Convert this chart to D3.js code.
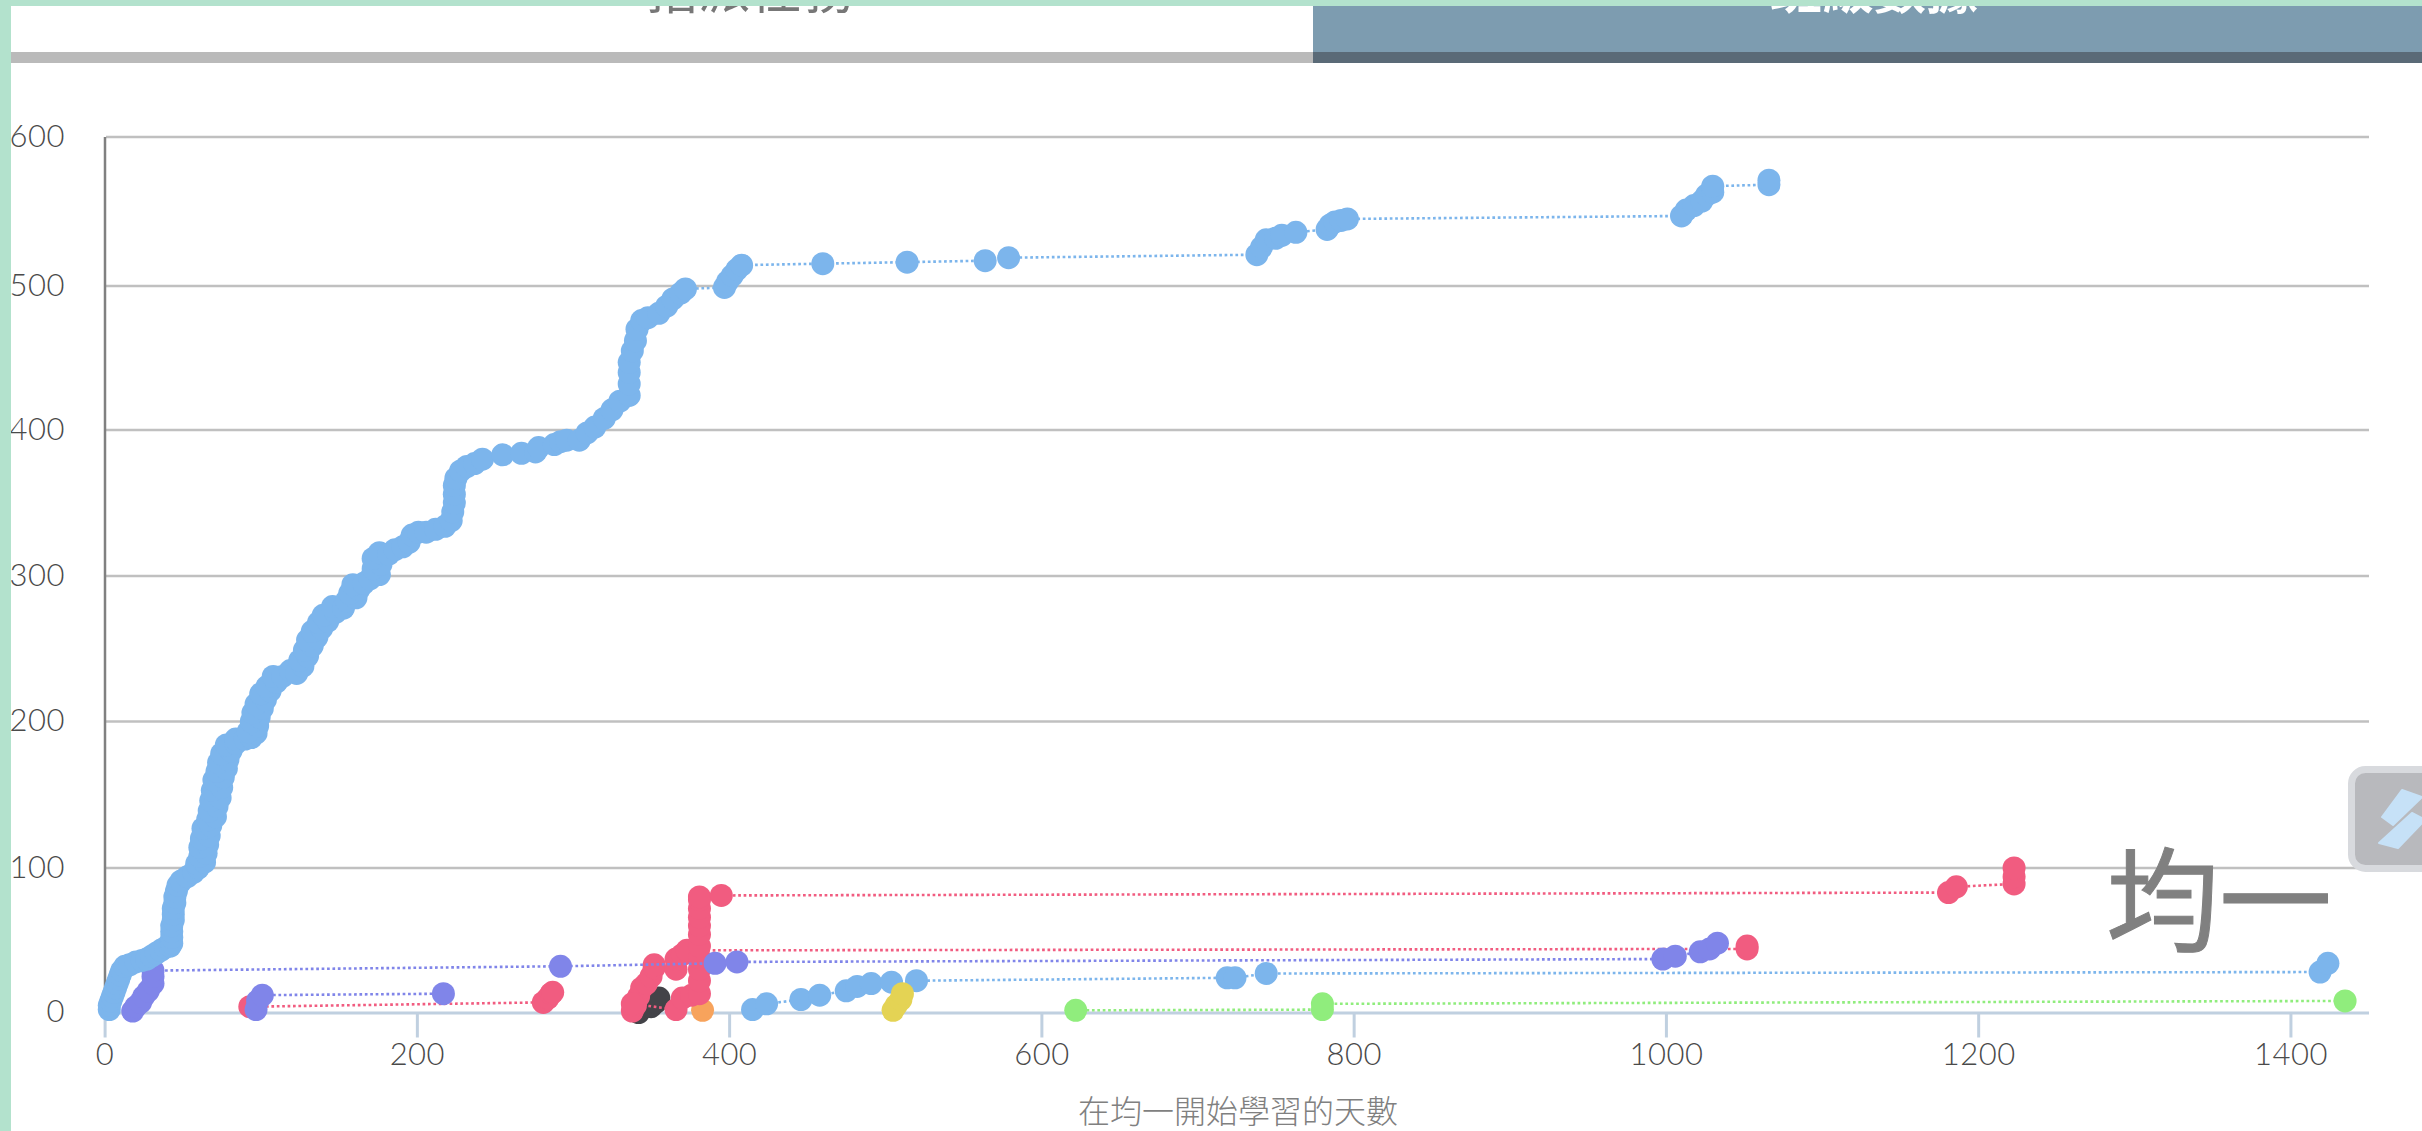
<!DOCTYPE html>
<html><head><meta charset="utf-8">
<script src="https://cdn.jsdelivr.net/npm/d3@7/dist/d3.min.js"></script>
<style>html,body{margin:0;padding:0;background:#fff;overflow:hidden}svg{display:block}</style>
</head><body>
<svg id="c" width="2422" height="1131"></svg>
<script>
const xTicks=[0,200,400,600,800,1000,1200,1400];
const yTicks=[0,100,200,300,400,500,600];
const xTitle="在均一開始學習的天數";
const tabLabels=["指派任務","班級數據"];
const watermark="均一";

const blueDays=[3,3,4,5,6,7,8,9,10,11,13,16,20,24,27,30,33,36,39,42,43,43,43,43,44,44,44,45,45,46,47,49,53,57,60,59,64,61,65,61,66,62,67,63,68,66,71,67,72,68,74,69,75,70,76,72,78,73,79,75,81,78,84,84,90,94,97,92,98,94,99,95,101,97,103,100,106,104,110,108,114,119,123,127,125,130,128,133,130,136,133,139,137,143,140,148,146,153,155,161,157,163,159,166,170,176,172,177,172,176,182,186,191,195,197,201,206,212,218,222,223,224,224,224,225,228,232,237,242,255,267,276,278,288,292,296,304,309,314,320,325,330,336,336,336,336,338,340,341,344,348,355,360,364,369,372,397,399,402,405,408,460,514,564,579,738,741,744,750,754,763,783,785,788,792,796,1010,1013,1018,1023,1026,1030,1030,1066,1066];
const blueVals=[2,5,8,11,14,17,20,23,26,29,32,33,35,36,37,39,41,43,45,46,48,52,56,60,64,68,72,76,80,84,88,91,94,97,100,103,104,108,110,114,116,120,122,127,129,133,135,139,142,146,148,153,155,160,162,166,168,172,174,178,180,184,185,188,188,189,192,193,197,200,203,206,209,212,215,219,221,224,227,231,231,235,233,238,242,245,249,252,256,258,262,264,268,269,273,275,279,278,283,285,288,291,294,295,298,301,305,308,312,316,315,318,320,323,328,330,330,332,334,338,344,350,356,362,367,372,375,377,380,383,384,385,388,390,392,393,393,398,402,408,414,420,424,432,440,447,455,462,470,476,478,481,486,491,495,498,499,503,507,511,514,515,516,517,519,521,526,531,532,534,536,538,541,543,544,545,547,551,554,557,561,563,567,568,571];
const blue2Days=[415,424,446,458,475,482,491,504,520,719,724,744,1419,1424];
const blue2Vals=[2,6,9,12,15,18,20,21,22,24,24,27,28,34];
const purpleADays=[18,20,23,25,28,31,31,31,292,391,405,998,1006,1022,1028,1033];
const purpleAVals=[1,4,7,11,15,20,25,29,32,34,35,37,39,42,44,48];
const purpleBDays=[97,98,101,217];
const purpleBVals=[2,8,12,13];
const pinkADays=[93,281,284,286,287];
const pinkAVals=[4,7,10,13,14];
const pinkBDays=[338,340,342,344,347,350,352,352,366,366,370,373,1052,1052];
const pinkBVals=[1,5,11,17,20,25,31,33,30,37,40,43,44,46];
const pinkCDays=[338,366,370,376,381,381,381,381,381,381,381,381,381,381,381,395,1181,1186,1223,1223,1223];
const pinkCVals=[6,2,10,12,13,22,30,38,46,54,60,66,72,78,80,81,83,87,89,94,100];
const darkDays=[342,350,353,355];
const darkVals=[0,4,7,10];
const orangeDays=[383];
const orangeVals=[1.5];
const yellowDays=[505,507,510,511];
const yellowVals=[1.5,5,9,13];
const greenDays=[622,780,780,1435];
const greenVals=[1.5,2,6,8];

const seriesOrder=[
 [orangeDays,orangeVals,"#f7a35c"],
 [darkDays,darkVals,"#434348"],
 [pinkADays,pinkAVals,"#f15c80"],
 [pinkBDays,pinkBVals,"#f15c80"],
 [pinkCDays,pinkCVals,"#f15c80"],
 [purpleADays,purpleAVals,"#8085e9"],
 [purpleBDays,purpleBVals,"#8085e9"],
 [blueDays,blueVals,"#7cb5ec"],
 [blue2Days,blue2Vals,"#7cb5ec"],
 [yellowDays,yellowVals,"#e4d354"],
 [greenDays,greenVals,"#90ed7d"]
];

const svg=d3.select("#c");
const x=d3.scaleLinear().domain([0,1450]).range([104.6,2368.5]);
const y=d3.scaleLinear().domain(yTicks).range([1012.5,868,721.5,576,430,286,137]);
const FONT="Lato, sans-serif", CJK="'Noto Sans CJK TC', sans-serif";

// tab bar
svg.append("rect").attr("x",1313).attr("y",0).attr("width",1109).attr("height",52).attr("fill","#7d9cb0");
svg.append("rect").attr("x",0).attr("y",52).attr("width",1313).attr("height",11).attr("fill","#bababa");
svg.append("rect").attr("x",1313).attr("y",52).attr("width",1109).attr("height",11).attr("fill","#5a6a77");
svg.selectAll("text.tab").data(tabLabels).join("text").attr("class","tab")
  .attr("x",(d,i)=>i?1874:750).attr("y",9).attr("text-anchor","middle")
  .attr("font-family",CJK).attr("font-size",52).attr("font-weight",(d,i)=>i?700:400)
  .attr("fill",(d,i)=>i?"#fff":"#777").text(d=>d);

// grid
svg.append("g").selectAll("line").data(yTicks.slice(1)).join("line")
  .attr("x1",106).attr("x2",2369).attr("y1",d=>y(d)).attr("y2",d=>y(d))
  .attr("stroke","#c0c0c0").attr("stroke-width",2.5);

// y axis
const yg=svg.append("g").attr("transform","translate(76,0)")
  .call(d3.axisLeft(y).tickValues(yTicks).tickSize(0).tickPadding(11));
yg.select(".domain").remove();
yg.selectAll("text").attr("font-family",FONT).attr("font-size",31).attr("font-weight",300).attr("letter-spacing",0.5).attr("fill","#4a4a4a").attr("dy","0.3em");
svg.append("line").attr("x1",105).attr("x2",105).attr("y1",137).attr("y2",y(0)).attr("stroke","#808080").attr("stroke-width",2.5);

// x axis
const xg=svg.append("g").attr("transform",`translate(0,${y(0)})`)
  .call(d3.axisBottom(x).tickValues(xTicks).tickFormat(d3.format("d")).tickSize(25).tickSizeOuter(0).tickPadding(5));
xg.select(".domain").attr("stroke","#c0d0e0").attr("stroke-width",3);
xg.selectAll(".tick line").attr("stroke","#c0d0e0").attr("stroke-width",3);
xg.selectAll("text").attr("font-family",FONT).attr("font-size",31).attr("font-weight",300).attr("letter-spacing",0.5).attr("fill","#4a4a4a");

svg.append("text").attr("x",1238).attr("y",1123).attr("text-anchor","middle")
  .attr("font-family",CJK).attr("font-size",32).attr("font-weight",300).attr("fill","#808080").text(xTitle);

// series
const line=d3.line().x(d=>x(d[0])).y(d=>y(d[1]));
seriesOrder.forEach(([days,vals,color])=>{
  const pts=days.map((d,i)=>[d,vals[i]]);
  const g=svg.append("g");
  g.append("path").attr("d",line(pts)).attr("fill","none").attr("stroke",color)
    .attr("stroke-width",2.6).attr("stroke-dasharray","2.7 2.7");
  g.selectAll("circle").data(pts).join("circle")
    .attr("cx",d=>x(d[0])).attr("cy",d=>y(d[1])).attr("r",11.5).attr("fill",color);
});

// watermark
svg.append("text").attr("x",2106).attr("y",942).attr("font-family",CJK).attr("font-size",113).attr("font-weight",400)
  .attr("fill","#808080").attr("stroke","#808080").attr("stroke-width",1).text(watermark);

// floating widget
svg.append("rect").attr("x",2351.5).attr("y",769.5).attr("width",90).attr("height",99).attr("rx",14)
  .attr("fill","#b8b9bd").attr("stroke","#d8dade").attr("stroke-width",7);
svg.append("path").attr("d","M2402,790L2422,797L2393,825L2382,817Z M2412,813L2422,818L2422,823L2398,848L2379,843Z")
  .attr("fill","#c6e1f7").attr("stroke","#c6e1f7").attr("stroke-width",2).attr("stroke-linejoin","round");

// page frame
svg.append("rect").attr("x",0).attr("y",0).attr("width",2422).attr("height",6).attr("fill","#b3e2cd");
svg.append("rect").attr("x",0).attr("y",0).attr("width",11).attr("height",1131).attr("fill","#b3e2cd");
</script>
</body></html>
